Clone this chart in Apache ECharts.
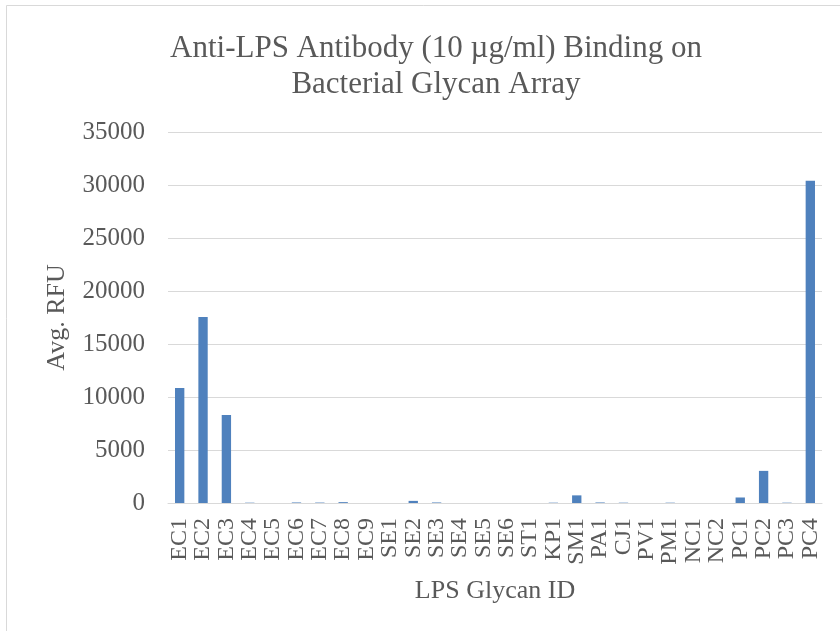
<!DOCTYPE html>
<html>
<head>
<meta charset="utf-8">
<script src="https://cdn.jsdelivr.net/npm/echarts@6/dist/echarts.min.js"></script>
<style>
	html,body{margin:0;padding:0;background:#fff;}
	#main{width:840px;height:631px;}
</style>
</head>
<body>
<div id="main"></div>
<script>
//类别
var glycanIds = ['EC1','EC2','EC3','EC4','EC5','EC6','EC7','EC8','EC9',
	'SE1','SE2','SE3','SE4','SE5','SE6','ST1','KP1','SM1','PA1','CJ1',
	'PV1','PM1','NC1','NC2','PC1','PC2','PC3','PC4'];
//平均RFU
var avgRfu = [10850, 17550, 8300, 30, 0, 50, 40, 80, 0,
	0, 200, 50, 0, 0, 0, 0, 30, 720, 50, 30,
	0, 30, 0, 0, 520, 3030, 30, 30400];
//y轴刻度
var yTicks = [0, 5000, 10000, 15000, 20000, 25000, 30000, 35000];

var font = '"Liberation Serif", "Times New Roman", serif';
var textColor = '#595959';

var myChart = echarts.init(document.getElementById('main'));
var option = {
	backgroundColor: '#fff',
	animation: false,
	title: {
		text: 'Anti-LPS Antibody (10 \u00b5g/ml) Binding on\nBacterial Glycan Array',
		left: 431,
		top: 26,
		textAlign: 'center',
		textStyle: {
			fontFamily: font,
			fontSize: 31,
			fontWeight: 'normal',
			color: textColor,
			lineHeight: 36
		}
	},
	graphic: [{
		//外边框
		type: 'rect',
		shape: {x: 6.5, y: 5.5, width: 900, height: 700},
		style: {fill: 'none', stroke: '#D9D9D9', lineWidth: 1},
		silent: true
	}],
	grid: {
		left: 168,
		right: 18,
		top: 132,
		bottom: 128
	},
	xAxis: {
		type: 'category',
		data: glycanIds,
		name: 'LPS Glycan ID',
		nameLocation: 'middle',
		nameGap: 75,
		nameTextStyle: {fontFamily: font, fontSize: 26, color: textColor},
		axisLine: {lineStyle: {color: '#D9D9D9', width: 1}},
		axisTick: {show: false},
		axisLabel: {
			rotate: 90,
			interval: 0,
			margin: 15,
			fontFamily: font,
			fontSize: 24,
			color: textColor
		}
	},
	yAxis: {
		type: 'value',
		min: yTicks[0],
		max: yTicks[yTicks.length - 1],
		interval: yTicks[1] - yTicks[0],
		name: 'Avg. RFU',
		nameLocation: 'middle',
		nameGap: 98,
		nameTextStyle: {fontFamily: font, fontSize: 26, color: textColor},
		axisLine: {show: false},
		axisTick: {show: false},
		axisLabel: {
			margin: 23,
			fontFamily: font,
			fontSize: 25,
			color: textColor,
			formatter: function(v){ return String(v); }
		},
		splitLine: {lineStyle: {color: '#D9D9D9', width: 1}}
	},
	series: [{
		type: 'bar',
		data: avgRfu,
		barWidth: '40%',
		itemStyle: {color: '#4F81BD'}
	}]
};
myChart.setOption(option);
</script>
</body>
</html>
